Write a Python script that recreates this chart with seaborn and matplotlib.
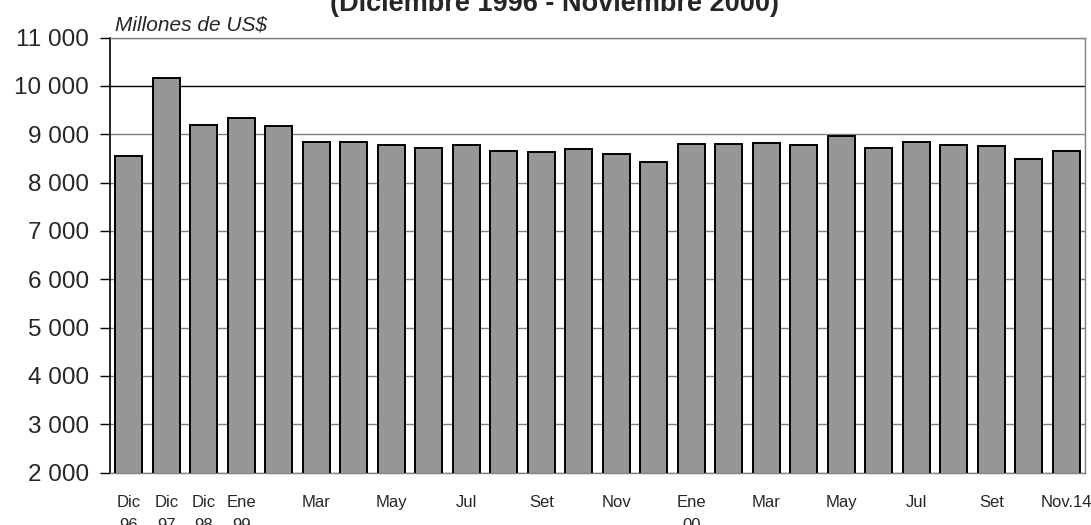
import seaborn as sns
import pandas as pd
import matplotlib.pyplot as plt

# reservas internacionales netas, millones de US$
meses = ['Dic 96', 'Dic 97', 'Dic 98', 'Ene 99', 'Feb 99', 'Mar 99', 'Abr 99', 'May 99',
         'Jun 99', 'Jul 99', 'Ago 99', 'Set 99', 'Oct 99', 'Nov 99', 'Dic 99', 'Ene 00',
         'Feb 00', 'Mar 00', 'Abr 00', 'May 00', 'Jun 00', 'Jul 00', 'Ago 00', 'Set 00',
         'Oct 00', 'Nov 00']
reservas = [8558, 10172, 9193, 9331, 9179, 8834, 8848, 8772, 8724, 8786, 8655, 8641,
            8697, 8586, 8414, 8800, 8800, 8814, 8779, 8959, 8724, 8834, 8766, 8745,
            8476, 8655]
etiquetas = ['Dic\n96', 'Dic\n97', 'Dic\n98', 'Ene\n99', '', 'Mar', '', 'May', '', 'Jul', '',
             'Set', '', 'Nov', '', 'Ene\n00', '', 'Mar', '', 'May', '', 'Jul', '', 'Set', '',
             'Nov.14']
yticks = [2000, 3000, 4000, 5000, 6000, 7000, 8000, 9000, 10000, 11000]

df = pd.DataFrame({'mes': meses, 'reservas': reservas})

sns.set_style('white')
plt.rcParams['font.family'] = ['Liberation Sans', 'DejaVu Sans']

fig = plt.figure(figsize=(10.91, 5.25), dpi=100)
ax = fig.add_axes([110 / 1091, 1 - 472.5 / 525, 975 / 1091, 435 / 525])

sns.barplot(data=df, x='mes', y='reservas', color='#969696', saturation=1,
            edgecolor='black', linewidth=1.4, width=0.73, ax=ax, zorder=3)

ax.set_ylim(2000, 11000)
ax.set_xlim(-0.5, len(meses) - 0.5)
ax.set_yticks(yticks)
ax.set_yticklabels(['{:,}'.format(v).replace(',', ' ') for v in yticks], fontsize=17.5)
ax.set_xticks(range(len(meses)))
ax.set_xticklabels(etiquetas, fontsize=12, linespacing=1.65, va='top')
ax.set_xticks([i - 0.5 for i in range(len(meses) + 1)], minor=True)
ax.tick_params(axis='x', which='major', length=0, pad=16)
ax.tick_params(axis='x', which='minor', length=5, width=1, color='#555555', direction='out')
ax.tick_params(axis='y', which='major', length=7, width=1, color='black', pad=8, left=True)
ax.set_xlabel('')
ax.set_ylabel('')

ax.yaxis.grid(True, color='#808080', linewidth=1, zorder=0)
ax.set_axisbelow(True)
for v, gl in zip(yticks, ax.yaxis.get_gridlines()):
    if v == 10000:
        gl.set_color('black')

for lado in ['top', 'right', 'bottom']:
    ax.spines[lado].set_color('#808080')
    ax.spines[lado].set_linewidth(1)
ax.spines['left'].set_color('black')
ax.spines['left'].set_linewidth(1.2)

fig.text(115 / 1091, 1 - 30.7 / 525, 'Millones de US$', fontsize=15, style='italic',
         ha='left', va='baseline')
fig.text(555 / 1091, 1 - 11 / 525, '(Diciembre 1996 - Noviembre 2000)', fontsize=19.5,
         fontweight='bold', ha='center', va='baseline')

fig.savefig('out.png', dpi=100)
